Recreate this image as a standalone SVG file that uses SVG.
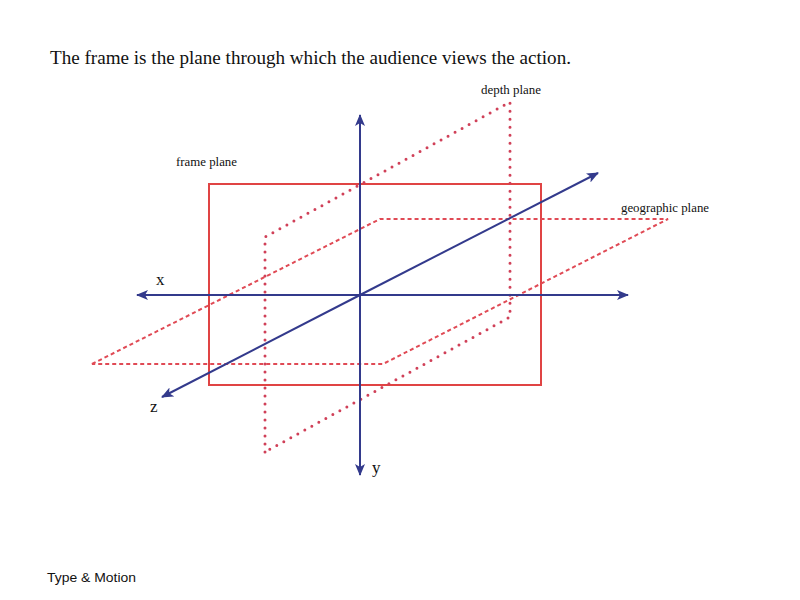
<svg xmlns="http://www.w3.org/2000/svg" width="800" height="600" viewBox="0 0 800 600">
<style>
.serif{font-family:"Liberation Serif","DejaVu Serif",serif;fill:#111}
.axis{stroke:#333a8c;stroke-width:2;fill:none}
.frame{stroke:#e04444;stroke-width:2;fill:none}
.geo{stroke:#e04a55;stroke-width:2;fill:none;stroke-dasharray:4 3}
.depth{stroke:#d04058;stroke-width:3;fill:none;stroke-dasharray:0 8;stroke-linecap:round}
</style>
<defs>
<marker id="ah" viewBox="0 0 12 10" refX="11" refY="5" markerWidth="12" markerHeight="10" markerUnits="userSpaceOnUse" orient="auto">
<path d="M0,0 L12,5 L0,10 L3,5 Z" fill="#333a8c"/>
</marker>
</defs>
<rect width="800" height="600" fill="#fff"/>
<text class="serif" x="50" y="64" font-size="19" textLength="521" lengthAdjust="spacingAndGlyphs">The frame is the plane through which the audience views the action.</text>
<g id="frame-plane">
<rect class="frame" x="209" y="184" width="332" height="201"/>
<text class="serif" x="176" y="166" font-size="12.5" textLength="61" lengthAdjust="spacingAndGlyphs">frame plane</text>
</g>
<g id="depth-plane">
<path class="depth" d="M265,452 L265,237 L510,102 L510,317 Z"/>
<text class="serif" x="481" y="94" font-size="12.5" textLength="60" lengthAdjust="spacingAndGlyphs">depth plane</text>
</g>
<g id="geographic-plane">
<path class="geo" d="M92,364 L380,219 L668,219 L383,364 Z"/>
<text class="serif" x="621" y="212" font-size="12.5" textLength="88" lengthAdjust="spacingAndGlyphs">geographic plane</text>
</g>
<g id="connectors">
<line class="axis" x1="360" y1="295" x2="137" y2="295" marker-end="url(#ah)"/>
<line class="axis" x1="360" y1="295" x2="628" y2="295" marker-end="url(#ah)"/>
<line class="axis" x1="360" y1="295" x2="360" y2="115" marker-end="url(#ah)"/>
<line class="axis" x1="360" y1="295" x2="360" y2="475" marker-end="url(#ah)"/>
<line class="axis" x1="360" y1="295" x2="598" y2="173" marker-end="url(#ah)"/>
<line class="axis" x1="360" y1="295" x2="162" y2="397" marker-end="url(#ah)"/>
</g>
<g id="axis-labels">
<text class="serif" x="156" y="285" font-size="17">x</text>
<text class="serif" x="150" y="412" font-size="17">z</text>
<text class="serif" x="372" y="473" font-size="17">y</text>
</g>
<text x="47" y="582" font-family="'Liberation Sans',Arial,sans-serif" font-size="13.5" textLength="89" lengthAdjust="spacingAndGlyphs" fill="#111">Type &amp; Motion</text>
</svg>
